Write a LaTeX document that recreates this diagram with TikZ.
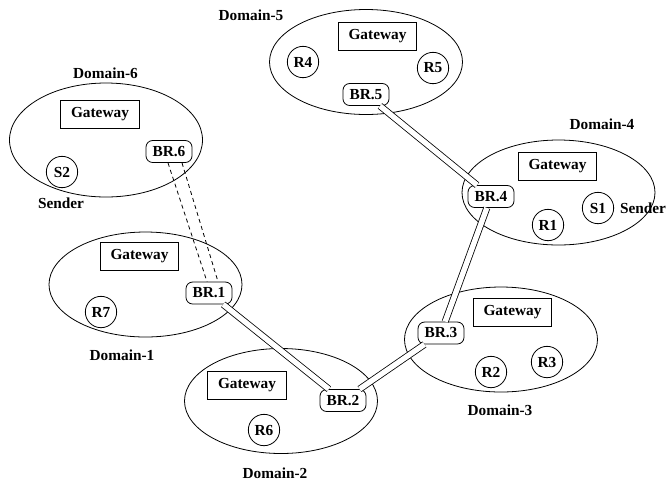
\documentclass[tikz,border=0pt]{standalone}
\usepackage{fontspec}
\setmainfont{Liberation Serif}
\usetikzlibrary{shapes.geometric}
\begin{document}
\begin{tikzpicture}[
    x=0.75pt, y=-0.75pt,
    line width=0.6pt,
    every node/.style={font=\fontsize{11.5}{13}\selectfont\bfseries},
    dom/.style={ellipse, draw, minimum width=144.75pt, minimum height=78.75pt, inner sep=0pt},
    gateway/.style={rectangle, draw, minimum width=59pt, minimum height=21pt},
    host/.style={circle, draw, minimum size=23.5pt, inner sep=0pt},
    border/.style={rectangle, rounded corners=5pt, draw, fill=white, minimum width=34.5pt, minimum height=16.5pt, inner sep=1pt},
    link/.style={double, double distance=4pt},
    tunnel/.style={dash pattern=on 3pt off 2.5pt}
]
\useasboundingbox (0,0) rectangle (667,480);

% domains
\node[dom] (d1) at (145.5,284.5) {};
\node[dom] (d2) at (281,401) {};
\node[dom] (d3) at (501,339.5) {};
\node[dom] (d4) at (558.5,192.5) {};
\node[dom] (d5) at (366,62) {};
\node[dom, minimum height=85.5pt] (d6) at (106,140) {};

\node (lab1) at (122,355) {Domain-1};
\node (lab2) at (275,473) {Domain-2};
\node (lab3) at (500,410) {Domain-3};
\node (lab4) at (602,124) {Domain-4};
\node (lab5) at (251,15) {Domain-5};
\node (lab6) at (105.5,73) {Domain-6};

% gateways
\node[gateway] (gw1) at (139.5,256) {Gateway};
\node[gateway] (gw2) at (247,385) {Gateway};
\node[gateway] (gw3) at (512.5,312) {Gateway};
\node[gateway] (gw4) at (557.5,166) {Gateway};
\node[gateway] (gw5) at (377.5,36) {Gateway};
\node[gateway] (gw6) at (100,114.5) {Gateway};

% hosts
\node[host] (r1) at (548,225) {R1};
\node[host] (r2) at (491,372) {R2};
\node[host] (r3) at (547,362) {R3};
\node[host] (r4) at (303,62) {R4};
\node[host] (r5) at (433,68) {R5};
\node[host] (r6) at (264,430) {R6};
\node[host] (r7) at (101,312) {R7};
\node[host] (s1) at (598,208) {S1};
\node[host] (s2) at (62,172) {S2};
\node (snd1) at (643,208) {Sender};
\node (snd2) at (61,203) {Sender};

% border routers
\node[border] (br1) at (209,293) {BR.1};
\node[border] (br2) at (343,400.5) {BR.2};
\node[border] (br3) at (441,333) {BR.3};
\node[border] (br4) at (491,196.5) {BR.4};
\node[border] (br5) at (366,94.5) {BR.5};
\node[border] (br6) at (169,151.5) {BR.6};

\draw[link] (br1) -- (br2);
\draw[link] (br2) -- (br3);
\draw[link] (br3) -- (br4);
\draw[link] (br4) -- (br5);
\draw[tunnel] ([xshift=-0.75pt]br6.south) -- ([xshift=-1.5pt]br1.north);
\draw[tunnel] ([xshift=9.75pt]br6.south) -- ([xshift=6.75pt]br1.north);
\end{tikzpicture}
\end{document}
